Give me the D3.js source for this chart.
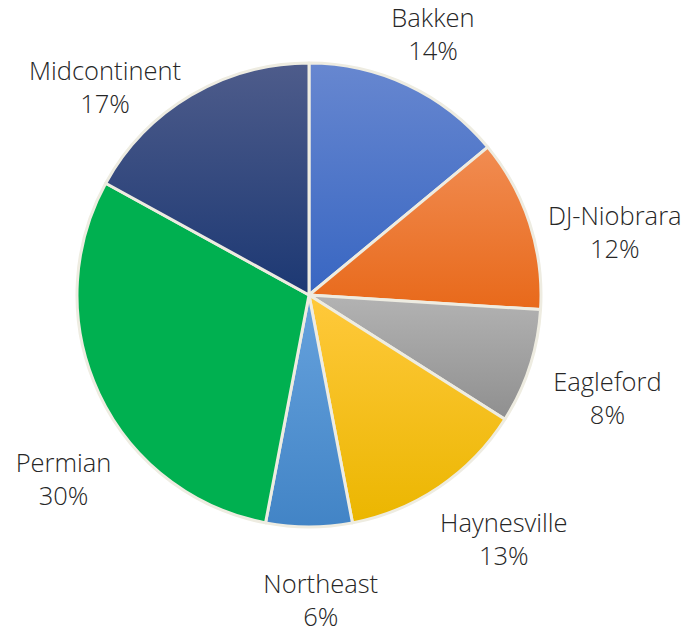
<!DOCTYPE html>
<html>
<head>
<meta charset="utf-8">
<script src="https://cdn.jsdelivr.net/npm/d3@7"></script>
<style>
  html, body { margin: 0; padding: 0; background: #ffffff; }
  svg { display: block; }
  .lbl { font-family: "Open Sans", sans-serif; font-weight: 300; font-size: 25.5px; fill: #262626; }
</style>
</head>
<body>
<svg id="chart" width="689" height="632"></svg>
<script>
// Share of production by basin (percent)
const basins = ["Bakken", "DJ-Niobrara", "Eagleford", "Haynesville", "Northeast", "Permian", "Midcontinent"];
const shares = [14, 12, 8, 13, 6, 30, 17];

// Vertical fill gradient (top colour, bottom colour) for each slice
const gradTop    = ["#6787d0", "#f18c52", "#b3b3b3", "#ffc93c", "#66a2dd", "#00b050", "#4e5c8b"];
const gradBottom = ["#3866c2", "#e8691a", "#8f8f8f", "#ebb600", "#4284c6", "#00b050", "#1c3873"];

// Label placement around the pie: polar angle (deg, clockwise from 12 o'clock) and distance
const labelPlacement = [
  { angle: 25.5,  dist: 288 },
  { angle: 78.5,  dist: 312 },
  { angle: 109.2, dist: 316 },
  { angle: 141.5, dist: 313 },
  { angle: 177.8, dist: 306 },
  { angle: 233.1, dist: 307 },
  { angle: 315.5, dist: 291 }
];

const width = 689, height = 632;
const cx = 309, cy = 295, radius = 232;

const svg = d3.select("#chart");
const defs = svg.append("defs");

basins.forEach((b, i) => {
  const g = defs.append("linearGradient")
    .attr("id", "grad" + i)
    .attr("x1", 0).attr("y1", 0).attr("x2", 0).attr("y2", 1);
  g.append("stop").attr("offset", "0%").attr("stop-color", gradTop[i]);
  g.append("stop").attr("offset", "100%").attr("stop-color", gradBottom[i]);
});

const data = basins.map((b, i) => ({ name: b, value: shares[i], idx: i }));

const pie = d3.pie().value(d => d.value).sort(null);
const arc = d3.arc().innerRadius(0).outerRadius(radius);

const g = svg.append("g").attr("transform", `translate(${cx},${cy})`);

g.selectAll("path.slice")
  .data(pie(data))
  .join("path")
  .attr("class", "slice")
  .attr("d", arc)
  .attr("fill", d => `url(#grad${d.data.idx})`)
  .attr("stroke", "#eeece1")
  .attr("stroke-width", 3)
  .attr("stroke-linejoin", "round");

const labels = g.selectAll("g.label")
  .data(pie(data))
  .join("g")
  .attr("class", "label")
  .attr("transform", d => {
    const p = labelPlacement[d.data.idx];
    const a = p.angle * Math.PI / 180;
    return `translate(${p.dist * Math.sin(a)},${-p.dist * Math.cos(a)})`;
  });

labels.append("text")
  .attr("class", "lbl")
  .attr("text-anchor", "middle")
  .attr("y", -16.5)
  .attr("dy", "0.35em")
  .text(d => d.data.name);

labels.append("text")
  .attr("class", "lbl")
  .attr("text-anchor", "middle")
  .attr("y", 16.5)
  .attr("dy", "0.35em")
  .text(d => d.data.value + "%");
</script>
</body>
</html>
